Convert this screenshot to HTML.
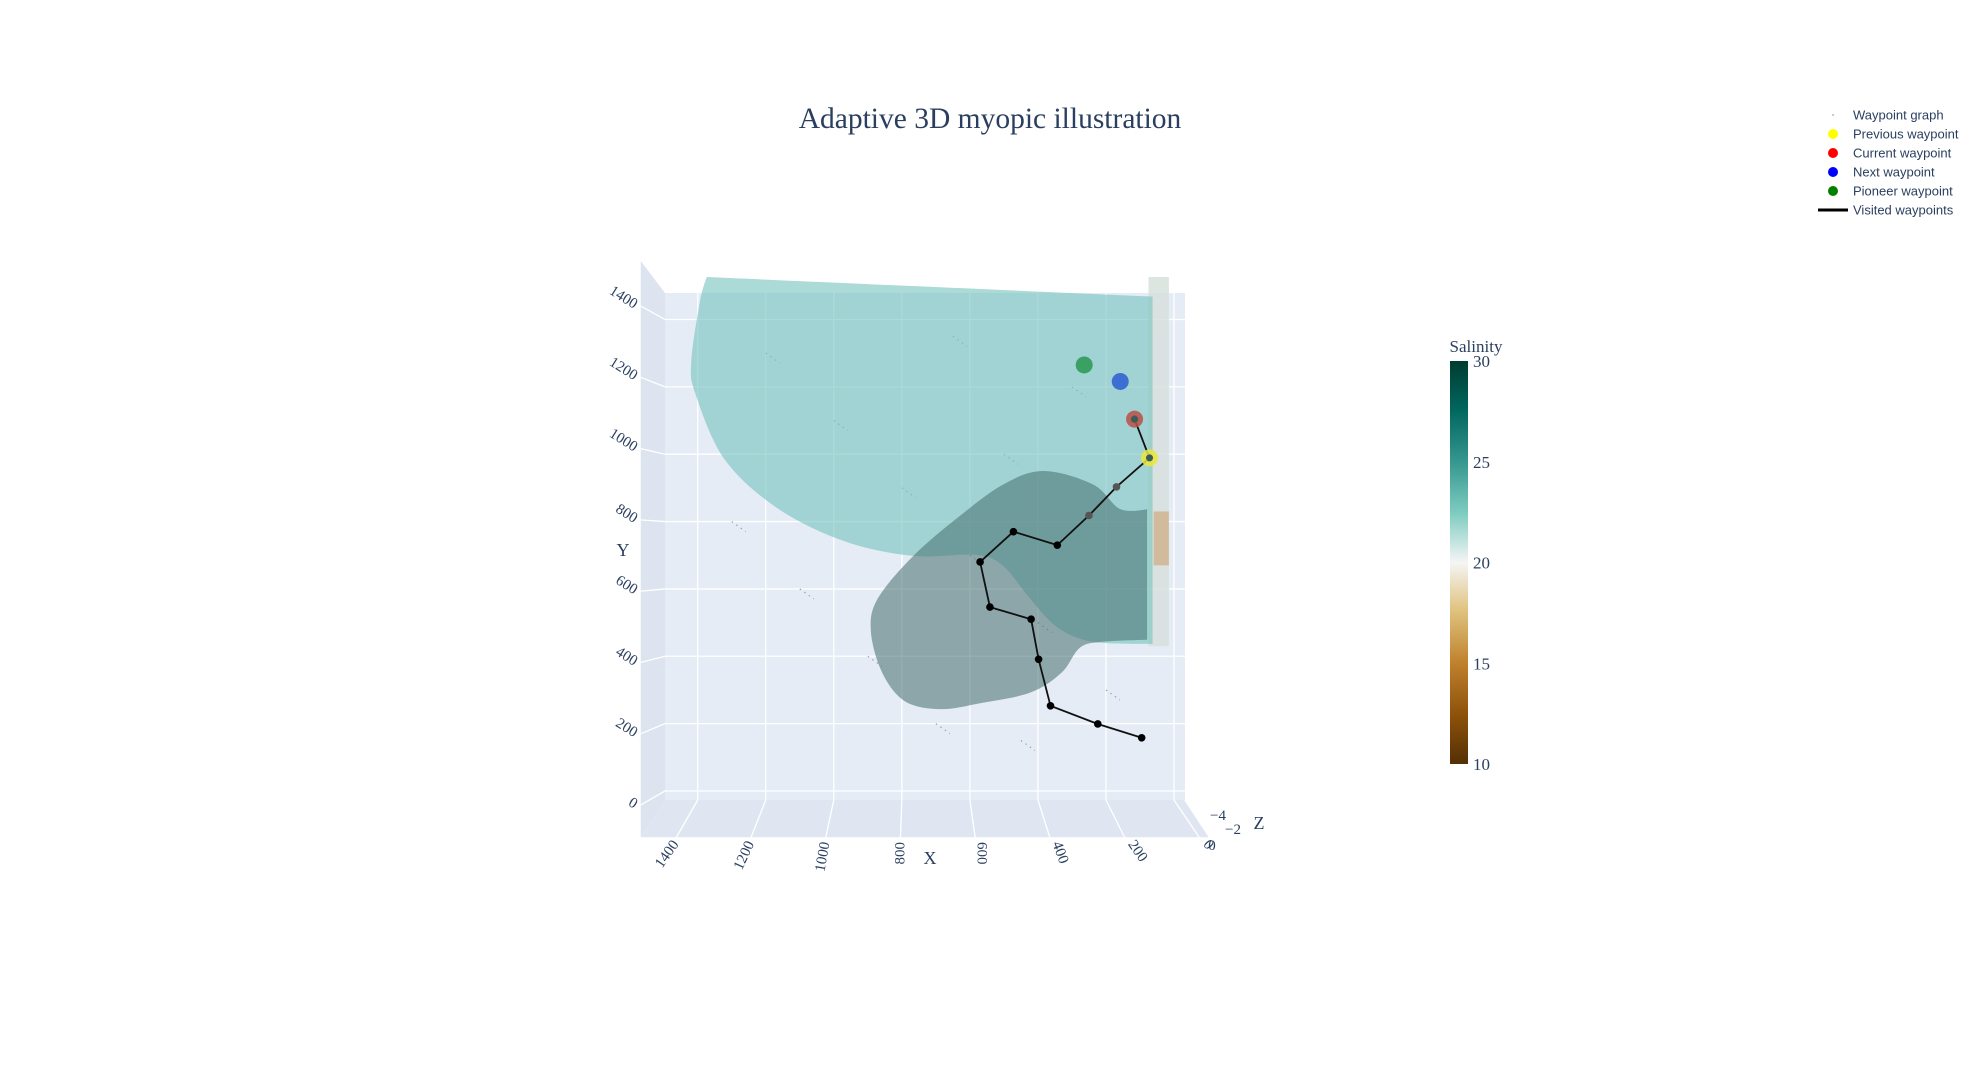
<!DOCTYPE html>
<html><head><meta charset="utf-8"><style>
html,body{margin:0;padding:0;background:#fff;}
svg{display:block;font-family:"Liberation Serif",serif;}
.lg{font-family:"Liberation Sans",sans-serif;font-size:13px;fill:#2a3f5f;}
</style></head><body>
<svg id="chart" width="1980" height="1080" viewBox="0 0 1980 1080" xmlns="http://www.w3.org/2000/svg">
<defs>
<linearGradient id="cbg" x1="0" y1="1" x2="0" y2="0">
<stop offset="0" stop-color="#543005"/><stop offset="0.12" stop-color="#8c510a"/><stop offset="0.25" stop-color="#bf812d"/>
<stop offset="0.38" stop-color="#dfc27d"/><stop offset="0.5" stop-color="#f5f5f5"/><stop offset="0.62" stop-color="#80cdc1"/>
<stop offset="0.75" stop-color="#35978f"/><stop offset="0.88" stop-color="#01665e"/><stop offset="1" stop-color="#003c30"/>
</linearGradient>
</defs>
<text x="990" y="128" text-anchor="middle" font-size="29.5" fill="#2a3f5f">Adaptive 3D myopic illustration</text>
<g id="scene"></g>
<g id="legend"></g>
<g id="colorbar">
<text x="1476" y="352" text-anchor="middle" font-size="17" fill="#2a3f5f">Salinity</text>
<rect x="1450" y="361" width="18" height="403" fill="url(#cbg)"/>
</g>
</svg>
<script>
const xTicks=[0,200,400,600,800,1000,1200,1400];
const yTicks=[0,200,400,600,800,1000,1200,1400];
const zTickLabels=["−4","−2","0"];
const cbTicks=[10,15,20,25,30];
const visitedX=[95,224,363,398,420,541,570,472,343,250,169,72,116];
const visitedY=[158,199,253,391,510,546,680,770,730,818,903,989,1104];
const prevWp=[72,989], currWp=[116,1104], nextWp=[158,1216], pioneerWp=[264,1265];
const tealX=[1373,63,63,238,343,423,502,581,766,964,1162,1320,1406,1419,1393];
const tealY=[1526,1468,437,443,486,571,668,701,698,740,837,983,1177,1274,1456];
const blobX=[383,238,158,79,79,211,277,330,423,568,687,792,858,891,871,766,634,502];
const blobY=[950,910,837,837,449,443,425,352,292,261,243,267,352,474,571,698,813,910];
const NS="http://www.w3.org/2000/svg";
const X=x=>1174-x*0.3402, Y=y=>791-y*0.3368;
const XF=x=>640+(X(x)-665)*(574/522);
const CB=v=>764-(v-10)/20*403;
function mk(tag,attrs,parent,txt){const e=document.createElementNS(NS,tag);for(const k in attrs)e.setAttribute(k,attrs[k]);if(txt!==undefined)e.textContent=txt;parent.appendChild(e);return e;}
function smooth(pts,sharp){
 const n=pts.length;let d="M"+pts[0][0]+","+pts[0][1];
 for(let i=0;i<n;i++){const p0=pts[(i-1+n)%n],p1=pts[i],p2=pts[(i+1)%n],p3=pts[(i+2)%n];
  const a=sharp.includes(i)?0:1/6,b=sharp.includes((i+1)%n)?0:1/6;
  const c1=[p1[0]+(p2[0]-p0[0])*a,p1[1]+(p2[1]-p0[1])*a],c2=[p2[0]-(p3[0]-p1[0])*b,p2[1]-(p3[1]-p1[1])*b];
  d+=` C${c1[0]},${c1[1]} ${c2[0]},${c2[1]} ${p2[0]},${p2[1]}`;}
 return d+"Z";}
const sc=document.getElementById('scene');
let w=mk('polygon',{points:"640,260 665,293 665,800 640,838",fill:"#dde4ef"},sc);

w=mk('polygon',{points:"640,838 665,800 1185,800 1210,838",fill:"#dfe6f1"},sc);

w=mk('rect',{x:665,y:293,width:520,height:507,fill:"#e5ecf6"},sc);

const xRot=[50,55,70,90,-90,-80,-65,-55];
xTicks.forEach((t,i)=>{const x=X(t);
 let l=mk('line',{x1:x,y1:293,x2:x,y2:800,stroke:"#fff","stroke-width":1.3},sc);
 
 const xf=XF(t);
 l=mk('line',{x1:x,y1:800,x2:xf,y2:838,stroke:"#fff","stroke-width":1.3},sc);
 
 const r=xRot[i],lx=xf+(r>0?6:0),ly=842;
 const lb=mk('text',{x:lx,y:ly,"font-size":15,fill:"#2a3f5f","text-anchor":r>0?"start":"end","dominant-baseline":"central",transform:`rotate(${r} ${lx} ${ly})`},sc,String(t));
 
});
yTicks.forEach(t=>{const y=Y(t);
 let l=mk('line',{x1:665,y1:y,x2:1185,y2:y,stroke:"#fff","stroke-width":1.3},sc);
 
 const yf=y+(y-550)*0.06;
 l=mk('line',{x1:665,y1:y,x2:640,y2:yf,stroke:"#fff","stroke-width":1.3},sc);
 
 const lb=mk('text',{x:636,y:yf+4,"font-size":15,fill:"#2a3f5f","text-anchor":"end",transform:`rotate(32 636 ${yf})`},sc,String(t));
 
});
let f=mk('polyline',{points:"640,260 640,838 1210,838",fill:"none",stroke:"#fff","stroke-width":1.5},sc);

f=mk('line',{x1:1185,y1:800,x2:1210,y2:838,stroke:"#fff","stroke-width":1.5},sc);

const gx=[1200,1000,800,600,400,200,1100,900,700,500,300,1300,650,450];
const gy=[1300,1100,900,700,500,300,600,400,200,1000,1200,800,1350,150];
gx.forEach((v,i)=>{const l=mk('line',{x1:X(v),y1:Y(gy[i]),x2:X(v)+14,y2:Y(gy[i])+10,stroke:"#9aa3b0","stroke-width":1.2,"stroke-dasharray":"1.5 4"},sc);
 });
let p=mk('rect',{x:X(75),y:Y(1526),width:X(15)-X(75),height:Y(430)-Y(1526),fill:"rgba(215,225,220,0.85)"},sc);

p=mk('path',{d:smooth(tealX.map((v,i)=>[X(v),Y(tealY[i])]),[0,1,2]),fill:"rgba(120,195,190,0.62)"},sc);

p=mk('path',{d:smooth(blobX.map((v,i)=>[X(v),Y(blobY[i])]),[3,4]),fill:"rgba(70,110,108,0.55)"},sc);

p=mk('rect',{x:X(60),y:Y(830),width:X(15)-X(60),height:Y(670)-Y(830),fill:"rgba(205,160,110,0.6)"},sc);

const pl=mk('polyline',{points:visitedX.map((v,i)=>X(v)+","+Y(visitedY[i])).join(" "),fill:"none",stroke:"#111","stroke-width":1.8},sc);

visitedX.forEach((v,i)=>{const c=mk('circle',{cx:X(v),cy:Y(visitedY[i]),r:3.8,fill:i>=9?"#555":"#000"},sc);
 });
const big=[[prevWp,"rgba(235,230,60,0.85)",'previous-waypoint'],[currWp,"rgba(185,80,70,0.85)",'current-waypoint'],[nextWp,"rgba(50,100,210,0.9)",'next-waypoint'],[pioneerWp,"rgba(40,150,80,0.85)",'pioneer-waypoint']];
big.forEach(b=>{const c=mk('circle',{cx:X(b[0][0]),cy:Y(b[0][1]),r:8.5,fill:b[1]},sc);
 });
[prevWp,currWp].forEach(q=>{const c=mk('circle',{cx:X(q[0]),cy:Y(q[1]),r:3.5,fill:"#3c5c58"},sc);
 });
let t=mk('text',{x:623,y:556,"font-size":18,fill:"#2a3f5f","text-anchor":"middle"},sc,"Y");

t=mk('text',{x:930,y:864,"font-size":18,fill:"#2a3f5f","text-anchor":"middle"},sc,"X");

t=mk('text',{x:1259,y:829,"font-size":18,fill:"#2a3f5f","text-anchor":"middle"},sc,"Z");

const zpos=[[1218,820],[1233,834],[1212,850]];
zTickLabels.forEach((s,i)=>{const e=mk('text',{x:zpos[i][0],y:zpos[i][1],"font-size":15,fill:"#2a3f5f","text-anchor":"middle"},sc,s);
 });
const cb=document.getElementById('colorbar');
cbTicks.forEach(v=>{const e=mk('text',{x:1473,y:CB(v)+6,"font-size":17,fill:"#2a3f5f"},cb,String(v));
 });
const lg=document.getElementById('legend');
const legNames=["Waypoint graph","Previous waypoint","Current waypoint","Next waypoint","Pioneer waypoint","Visited waypoints"];
const legColors=["#ccc","#ffff00","#ff0000","#0000ff","#008000","#000"];
legNames.forEach((n,i)=>{const y=115+i*19;
 const g=mk('g',{},lg);
 
 if(i===0)mk('circle',{cx:1833,cy:y,r:1,fill:"#bbb"},g);
 else if(i===5)mk('line',{x1:1818,y1:y,x2:1848,y2:y,stroke:"#000","stroke-width":3},g);
 else mk('circle',{cx:1833,cy:y,r:5,fill:legColors[i]},g);
 mk('text',{x:1853,y:y+4.5,class:"lg"},g,n);
});
</script>
</body></html>
